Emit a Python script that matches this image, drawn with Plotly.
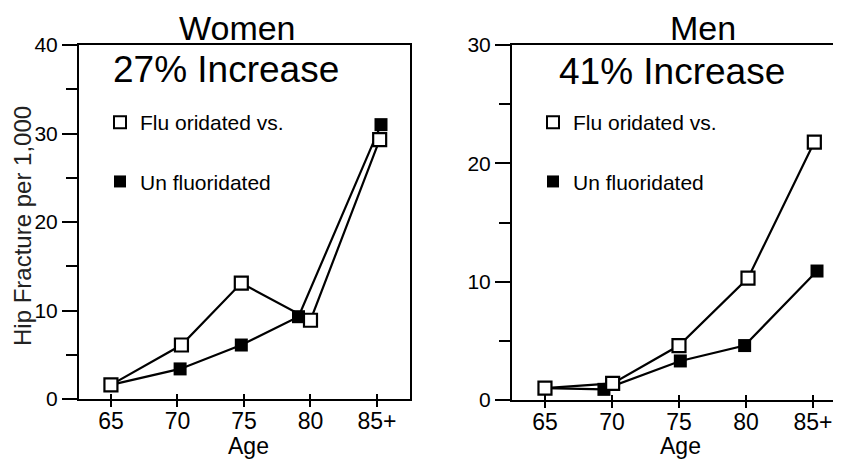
import plotly.graph_objects as go

# ---- data ----
age_ticks = [65, 70, 75, 80, 85]
age_labels = ["65", "70", "75", "80", "85+"]

women_fluor_x = [65.0, 70.3, 74.8, 80.0, 85.2]
women_fluor_y = [1.6, 6.1, 13.1, 8.9, 29.3]
women_unfl_x = [65.0, 70.2, 74.8, 79.1, 85.3]
women_unfl_y = [1.6, 3.4, 6.1, 9.3, 31.0]

men_fluor_x = [65.0, 70.05, 75.0, 80.15, 85.1]
men_fluor_y = [1.0, 1.4, 4.6, 10.3, 21.8]
men_unfl_x = [65.0, 69.4, 75.1, 79.9, 85.3]
men_unfl_y = [1.0, 0.9, 3.3, 4.6, 10.9]

# page body has an 8px margin; figure fills the rest of the 841x459 window
OFF = 8
W, H = 841 - OFF, 459 - OFF
FONT = "Liberation Sans, Arial, sans-serif"

def px_x(p):
    return (p - OFF) / W

def px_y(p):
    return 1 - (p - OFF) / H

fig = go.Figure()

open_marker = dict(symbol="square", size=13, color="white", line=dict(color="black", width=2.2))
filled_marker = dict(symbol="square", size=13, color="black")
line_style = dict(color="black", width=2.2)

# Women (left)
fig.add_trace(go.Scatter(x=women_unfl_x, y=women_unfl_y, mode="lines+markers",
                         marker=filled_marker, line=line_style, xaxis="x", yaxis="y",
                         showlegend=False))
fig.add_trace(go.Scatter(x=women_fluor_x, y=women_fluor_y, mode="lines+markers",
                         marker=open_marker, line=line_style, xaxis="x", yaxis="y",
                         showlegend=False))
# Men (right)
fig.add_trace(go.Scatter(x=men_unfl_x, y=men_unfl_y, mode="lines+markers",
                         marker=filled_marker, line=line_style, xaxis="x2", yaxis="y2",
                         showlegend=False))
fig.add_trace(go.Scatter(x=men_fluor_x, y=men_fluor_y, mode="lines+markers",
                         marker=open_marker, line=line_style, xaxis="x2", yaxis="y2",
                         showlegend=False))

# legend entries
for lg in ["legend", "legend2"]:
    xa = "x" if lg == "legend" else "x2"
    ya = "y" if lg == "legend" else "y2"
    fig.add_trace(go.Scatter(x=[None], y=[None], mode="markers", name="Flu oridated vs.",
                             marker=dict(symbol="square", size=12, color="white",
                                         line=dict(color="black", width=2)),
                             legend=lg, legendgroup=lg + "a", showlegend=True,
                             xaxis=xa, yaxis=ya))
    fig.add_trace(go.Scatter(x=[None], y=[None], mode="markers", name="Un fluoridated",
                             marker=dict(symbol="square", size=12, color="black"),
                             legend=lg, legendgroup=lg + "b", showlegend=True,
                             xaxis=xa, yaxis=ya))

# invisible traces for overlay axes (tick halves)
for xa, ya in [("x3", "y"), ("x4", "y2"), ("x5", "y"), ("x6", "y2")]:
    fig.add_trace(go.Scatter(x=[None], y=[None], xaxis=xa, yaxis=ya, showlegend=False,
                             hoverinfo="skip"))

tickfont_x = dict(family=FONT, size=23, color="black")
tickfont_y = dict(family=FONT, size=21, color="black")

left_dom = [px_x(79), px_x(410)]
right_dom = [px_x(512), 1.0]
left_xr = [62.6, 87.48]
right_xr = [62.54, 87.09]

common_x = dict(tickmode="array", tickvals=age_ticks, ticktext=age_labels,
                ticks="", ticklabelstandoff=0,
                showline=True, linewidth=2, linecolor="black", mirror=True,
                showgrid=False, zeroline=False, tickfont=tickfont_x, fixedrange=True)

def tick_axis(dom, rng, anchor, over, side):
    return dict(domain=dom, range=rng, anchor=anchor, overlaying=over,
                tickmode="array", tickvals=age_ticks, ticks=side,
                ticklen=7 if side == "outside" else 5,
                tickwidth=2, tickcolor="black", showticklabels=False, showline=False,
                showgrid=False, zeroline=False)

def y_axis(dom, rng, anchor, mirror):
    return dict(domain=dom, range=rng, anchor=anchor,
                tickmode="linear", tick0=0, dtick=10, ticks="outside", ticklen=15,
                tickwidth=2, tickcolor="black",
                minor=dict(ticks="outside", ticklen=11, tickwidth=2, tickcolor="black",
                           dtick=5, tick0=0, showgrid=False),
                showline=True, linewidth=2, linecolor="black", mirror=mirror,
                showgrid=False, zeroline=False, tickfont=tickfont_y)

fig.update_layout(
    xaxis=dict(domain=left_dom, range=left_xr, anchor="y", **common_x),
    xaxis2=dict(domain=right_dom, range=right_xr, anchor="y2", **common_x),
    xaxis3=tick_axis(left_dom, left_xr, "y", "x", "outside"),
    xaxis4=tick_axis(right_dom, right_xr, "y2", "x2", "outside"),
    xaxis5=tick_axis(left_dom, left_xr, "y", "x", "inside"),
    xaxis6=tick_axis(right_dom, right_xr, "y2", "x2", "inside"),
    yaxis=y_axis([px_y(399), px_y(45)], [0, 40], "x", True),
    yaxis2=y_axis([px_y(400), px_y(45)], [0, 30], "x2", False),
    width=W, height=H,
    margin=dict(l=0, r=0, t=0, b=0, autoexpand=False),
    paper_bgcolor="white", plot_bgcolor="white",
    font=dict(family=FONT, color="black"),
    legend=dict(x=px_x(100), y=px_y(102), xanchor="left", yanchor="top",
                font=dict(family=FONT, size=21, color="black"),
                bgcolor="rgba(0,0,0,0)", tracegroupgap=29, itemclick=False),
    legend2=dict(x=px_x(533), y=px_y(102), xanchor="left", yanchor="top",
                 font=dict(family=FONT, size=21, color="black"),
                 bgcolor="rgba(0,0,0,0)", tracegroupgap=29, itemclick=False),
    showlegend=True,
)

annots = [
    dict(text="Women", x=px_x(237), y=px_y(28), size=34),
    dict(text="27% Increase", x=px_x(226), y=px_y(69), size=37),
    dict(text="Men", x=px_x(703), y=px_y(28), size=34),
    dict(text="41% Increase", x=px_x(672), y=px_y(72), size=37),
    dict(text="Age", x=px_x(248), y=px_y(446), size=23),
    dict(text="Age", x=px_x(680), y=px_y(446), size=23),
]
for a in annots:
    fig.add_annotation(text=a["text"], x=a["x"], y=a["y"], xref="paper", yref="paper",
                       xanchor="center", yanchor="middle", showarrow=False,
                       font=dict(family=FONT, size=a["size"], color="black"))

fig.add_annotation(text="Hip Fracture per 1,000", x=px_x(22), y=px_y(226),
                   xref="paper", yref="paper", xanchor="center", yanchor="middle",
                   textangle=-90, showarrow=False,
                   font=dict(family=FONT, size=24, color="#222222"))

fig.write_html("out.html")
